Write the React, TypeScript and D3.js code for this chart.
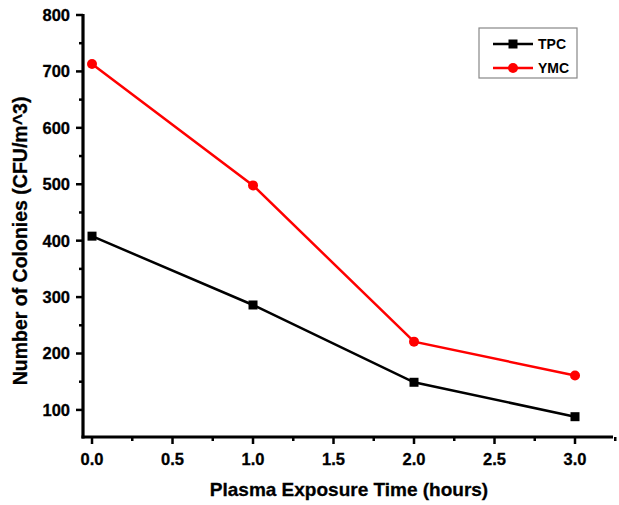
import React from "react";
import * as d3 from "d3";

const hours = [0, 1, 2, 3];
const tpc = [408, 286, 149, 88];
const ymc = [713, 498, 221, 161];
const xTicks = [0, 0.5, 1, 1.5, 2, 2.5, 3];
const xMinor = [0.25, 0.75, 1.25, 1.75, 2.25, 2.75, 3.25];
const yTicks = [100, 200, 300, 400, 500, 600, 700, 800];
const yMinor = [150, 250, 350, 450, 550, 650, 750];

const W = 619;
const H = 505;
const left = 83;
const right = 613;
const top = 15;
const bottom = 437;

const x = d3.scaleLinear().domain([-0.056, 3.236]).range([left, right]);
const y = d3.scaleLinear().domain([52, 800]).range([bottom, top]);

const font = "'Liberation Sans', Arial, sans-serif";

export default function App() {
  const line = d3
    .line<number>()
    .x((_, i) => x(hours[i]))
    .y((d) => y(d));

  return (
    <svg width={W} height={H} style={{ position: "absolute", left: 0, top: 0 }}>
      <rect width={W} height={H} fill="#fff" />
      {/* series */}
      <path d={line(tpc) ?? ""} fill="none" stroke="#000" strokeWidth={2.5} />
      <path d={line(ymc) ?? ""} fill="none" stroke="#ff0000" strokeWidth={2.5} />
      {tpc.map((v, i) => (
        <rect key={"t" + i} x={x(hours[i]) - 4.5} y={y(v) - 4.5} width={9} height={9} fill="#000" />
      ))}
      {ymc.map((v, i) => (
        <circle key={"m" + i} cx={x(hours[i])} cy={y(v)} r={5} fill="#ff0000" />
      ))}

      {/* axes */}
      <line x1={left} x2={left} y1={top - 1} y2={bottom + 1.5} stroke="#000" strokeWidth={3.2} />
      <line x1={left - 1.5} x2={right} y1={bottom} y2={bottom} stroke="#000" strokeWidth={3.2} />
      {yTicks.map((t) => (
        <g key={"yt" + t}>
          <line x1={left - 7} x2={left} y1={y(t)} y2={y(t)} stroke="#000" strokeWidth={2.5} />
          <text x={left - 13} y={y(t)} dy="0.36em" textAnchor="end" fontFamily={font} fontWeight="bold" fontSize={16.5} stroke="#000" strokeWidth={0.3}>
            {t}
          </text>
        </g>
      ))}
      {yMinor.map((t) => (
        <line key={"ym" + t} x1={left - 4} x2={left} y1={y(t)} y2={y(t)} stroke="#000" strokeWidth={2.5} />
      ))}
      {xTicks.map((t) => (
        <g key={"xt" + t}>
          <line x1={x(t)} x2={x(t)} y1={bottom} y2={bottom + 7} stroke="#000" strokeWidth={2.5} />
          <text x={x(t)} y={465} textAnchor="middle" fontFamily={font} fontWeight="bold" fontSize={16.5} stroke="#000" strokeWidth={0.3}>
            {t.toFixed(1)}
          </text>
        </g>
      ))}
      {xMinor.map((t) => (
        <line key={"xm" + t} x1={x(t)} x2={x(t)} y1={bottom} y2={bottom + 4} stroke="#000" strokeWidth={2.5} />
      ))}

      {/* axis titles */}
      <text x={349} y={496} textAnchor="middle" fontFamily={font} fontWeight="bold" fontSize={19} stroke="#000" strokeWidth={0.3}>
        Plasma Exposure Time (hours)
      </text>
      <text
        transform={`translate(27, 241) rotate(-90)`}
        textAnchor="middle"
        fontFamily={font}
        fontWeight="bold"
        fontSize={19.5}
        stroke="#000"
        strokeWidth={0.3}
      >
        Number of Colonies (CFU/m^3)
      </text>

      {/* legend */}
      <rect x={479} y={28} width={98} height={50} fill="#fff" stroke="#888" strokeWidth={1.2} />
      <line x1={493} x2={533} y1={44} y2={44} stroke="#000" strokeWidth={2.5} />
      <rect x={508.5} y={39.5} width={9} height={9} fill="#000" />
      <text x={538} y={44} dy="0.36em" fontFamily={font} fontWeight="bold" fontSize={14}>
        TPC
      </text>
      <line x1={493} x2={533} y1={68} y2={68} stroke="#ff0000" strokeWidth={2.5} />
      <circle cx={513} cy={68} r={5} fill="#ff0000" />
      <text x={538} y={68} dy="0.36em" fontFamily={font} fontWeight="bold" fontSize={14}>
        YMC
      </text>
    </svg>
  );
}
